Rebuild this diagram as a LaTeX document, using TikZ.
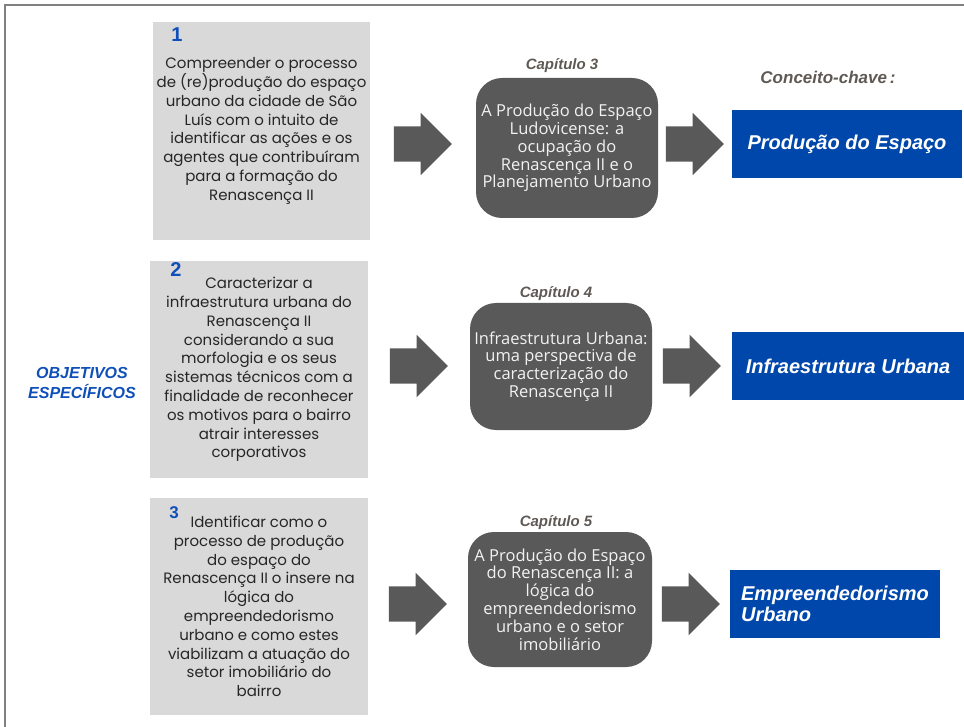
\documentclass[tikz,border=0pt]{standalone}
\usepackage{fontspec}
\setmainfont{Liberation Sans}
\newfontfamily\objfont{Poppins}
\newfontfamily\capfont{Open Sans}
\usetikzlibrary{shapes.arrows,calc}

\definecolor{boxgray}{HTML}{D9D9D9}
\definecolor{capgray}{HTML}{595959}
\definecolor{keyblue}{HTML}{0047AB}
\definecolor{numblue}{HTML}{0F4FBA}
\definecolor{labelgray}{HTML}{5E5954}
\definecolor{framegray}{HTML}{808080}

\tikzset{
    objbox/.style={fill=boxgray, minimum width=218pt, minimum height=217pt, inner sep=0pt,
        align=center, text=black!85, font=\objfont\fontsize{15}{18.8}\selectfont},
    capbox/.style={fill=capgray, rounded corners=26pt, minimum width=182pt, inner sep=0pt,
        align=center, text=white!95!black, font=\capfont\fontsize{16.5}{17.8}\selectfont},
    keybox/.style={fill=keyblue, minimum height=68pt, inner sep=0pt, align=left,
        text=white, font=\bfseries\itshape\fontsize{20}{21}\selectfont},
    blockarrow/.style={single arrow, fill=capgray, inner xsep=0pt, inner ysep=17.5pt,
        single arrow head extend=13.5pt, minimum height=58pt, xshift=-9pt},
    numlabel/.style={font=\bfseries\fontsize{20}{20}\selectfont, text=numblue},
    caplabel/.style={font=\bfseries\itshape\fontsize{15}{15}\selectfont, text=labelgray}
}

\begin{document}
\begin{tikzpicture}[x=1pt,y=-1pt]
        \useasboundingbox (0,0) rectangle (964,727);
        \draw[framegray, line width=1.5pt] (5,727) -- (5,5) -- (964,5);

        % objetivos
        \node [font=\bfseries\itshape\fontsize{16}{20}\selectfont, text=numblue, align=center] (objetivos) at (82,383) {OBJETIVOS\\ESPECÍFICOS};

        \node [objbox, minimum width=217pt, minimum height=218pt] (obj1) at (261.5,131) {Compreender o processo\\ de (re)produção do espaço\\ urbano da cidade de São\\ Luís com o intuito de\\ identificar as ações e os\\ agentes que contribuíram\\ para a formação do\\ Renascença II};
        \node [objbox] (obj2) at (259,369.5) {Caracterizar a\\ infraestrutura urbana do\\ Renascença II\\ considerando a sua\\ morfologia e os seus\\ sistemas técnicos com a\\ finalidade de reconhecer\\ os motivos para o bairro\\ atrair interesses\\ corporativos};
        \node [objbox] (obj3) at (259,606.5) {Identificar como o\\ processo de produção\\ do espaço do\\ Renascença II o insere na\\ lógica do\\ empreendedorismo\\ urbano e como estes\\ viabilizam a atuação do\\ setor imobiliário do\\ bairro};

        \node [numlabel] (num1) at (177,35) {1};
        \node [numlabel] (num2) at (176,270) {2};
        \node [numlabel, font=\bfseries\fontsize{17}{17}\selectfont] (num3) at (174,513) {3};

        % capitulos
        \node [capbox, minimum height=140pt] (cap1) at (567,148) {A Produção do Espaço\\ Ludovicense: a\\ ocupação do\\ Renascença II e o\\ Planejamento Urbano};
        \node [capbox, minimum height=127pt] (cap2) at (561,366.5) {Infraestrutura Urbana:\\ uma perspectiva de\\ caracterização do\\ Renascença II};
        \node [capbox, minimum width=184pt, minimum height=135pt] (cap3) at (560,599.5) {A Produção do Espaço\\ do Renascença II: a\\ lógica do\\ empreendedorismo\\ urbano e o setor\\ imobiliário};

        \node [caplabel] (caplab1) at (562,66) {Capítulo 3};
        \node [caplabel] (caplab2) at (556,294) {Capítulo 4};
        \node [caplabel] (caplab3) at (556,523) {Capítulo 5};

        % conceitos
        \node [font=\bfseries\itshape\fontsize{17}{17}\selectfont, text=labelgray] (conceito) at (828,77) {Conceito-chave\,:};

        \node [keybox, minimum width=230pt] (key1) at (847,144) {Produção do Espaço};
        \node [keybox, minimum width=232pt] (key2) at (848,366) {Infraestrutura Urbana};
        \node [keybox, minimum width=210pt] (key3) at (835,604) {Empreendedorismo\\Urbano};

        % setas
        \coordinate (m1) at ($(obj1.east)!0.5!(cap1.west)$);
        \coordinate (m2) at ($(obj2.east)!0.5!(cap2.west)$);
        \coordinate (m3) at ($(obj3.east)!0.5!(cap3.west)$);
        \coordinate (n1) at ($(cap1.east)!0.5!(key1.west)$);
        \coordinate (n2) at ($(cap2.east)!0.5!(key2.west)$);
        \coordinate (n3) at ($(cap3.east)!0.5!(key3.west)$);

        \node [blockarrow] (arr1) at (m1 |- key1) {};
        \node [blockarrow] (arr2) at (m2 |- key2) {};
        \node [blockarrow] (arr3) at (m3 |- key3) {};
        \node [blockarrow] (brr1) at (n1 |- key1) {};
        \node [blockarrow] (brr2) at (n2 |- key2) {};
        \node [blockarrow] (brr3) at (n3 |- key3) {};
\end{tikzpicture}
\end{document}
